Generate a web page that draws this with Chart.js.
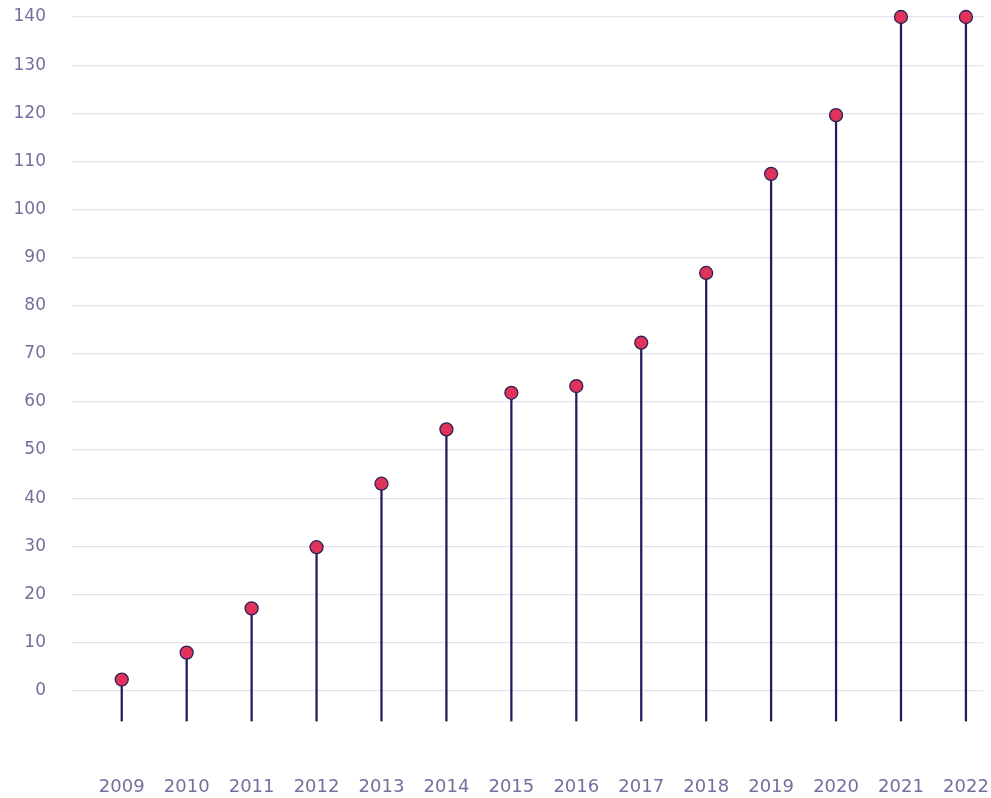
<!DOCTYPE html>
<html>
<head>
<meta charset="utf-8">
<script src="https://cdn.jsdelivr.net/npm/chart.js@4"></script>
<style>
  html, body { margin: 0; padding: 0; background: #ffffff; }
  #wrap { width: 991px; height: 798px; position: relative; }
</style>
</head>
<body>
<div id="wrap"><canvas id="lollipopChart"></canvas></div>
<script>
// Data
const years = [2009, 2010, 2011, 2012, 2013, 2014, 2015, 2016, 2017, 2018, 2019, 2020, 2021, 2022];
const values = [2.3, 7.9, 17.1, 29.8, 43.0, 54.3, 61.9, 63.3, 72.3, 86.8, 107.4, 119.6, 140, 140];
const yTicks = [0, 10, 20, 30, 40, 50, 60, 70, 80, 90, 100, 110, 120, 130, 140];

const Y_MIN = -6.4;
const textColor = '#746f9c';
const fontStack = '"DejaVu Sans", sans-serif';

const points = years.map((y, i) => ({ x: y, y: values[i] }));

const ctx = document.getElementById('lollipopChart').getContext('2d');
const chart = new Chart(ctx, {
  type: 'bar',
  data: {
    datasets: [
      {
        type: 'scatter',
        label: 'value',
        data: points,
        pointRadius: 6.5,
        pointHoverRadius: 6.5,
        pointBackgroundColor: '#e0325a',
        pointBorderColor: '#2b2358',
        pointBorderWidth: 1.3,
        clip: false,
        order: 0,
      },
      {
        type: 'bar',
        label: 'stem',
        data: points,
        base: Y_MIN,
        backgroundColor: '#221c5e',
        barThickness: 1.6,
        order: 1,
      },
    ],
  },
  options: {
    responsive: true,
    maintainAspectRatio: false,
    animation: false,
    layout: {
      padding: { top: 17, right: 3, bottom: 0, left: 0 },
    },
    plugins: {
      legend: { display: false },
      tooltip: { enabled: false },
    },
    scales: {
      x: {
        type: 'linear',
        offset: false,
        min: 2008.234,
        max: 2022.266,
        // invisible grid, tick marks used only as the gap above the labels
        grid: { color: 'transparent', drawTicks: true, tickLength: 55, drawOnChartArea: false, offset: false },
        border: { display: false },
        afterBuildTicks: function (scale) {
          scale.ticks = years.map(v => ({ value: v }));
        },
        afterFit: function (scale) {
          scale.paddingLeft = 0;
          scale.paddingRight = 0;
        },
        ticks: {
          padding: 0,
          maxRotation: 0,
          color: textColor,
          font: { family: fontStack, size: 18 },
          callback: function (value) {
            return String(value);
          },
        },
      },
      y: {
        min: Y_MIN,
        max: 140,
        grid: { color: '#e4e2ee', lineWidth: 1.2, drawTicks: true, tickLength: 26, tickColor: 'transparent' },
        border: { display: false },
        afterBuildTicks: function (scale) {
          scale.ticks = yTicks.map(v => ({ value: v }));
        },
        afterFit: function (scale) {
          scale.width = 72;
        },
        ticks: {
          padding: 0,
          color: textColor,
          font: { family: fontStack, size: 17 },
        },
      },
    },
  },
});
</script>
</body>
</html>
